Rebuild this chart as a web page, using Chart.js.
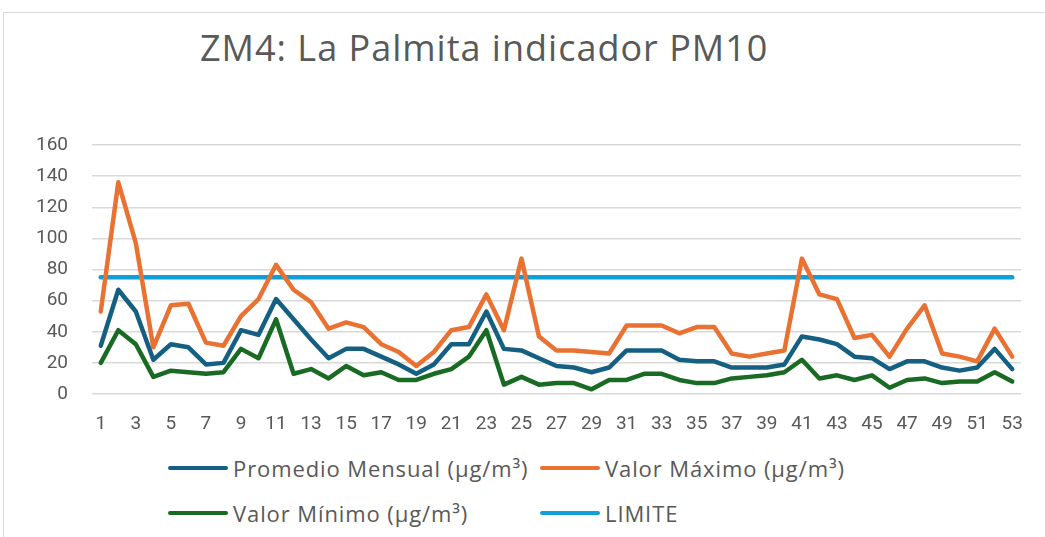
<!DOCTYPE html>
<html>
<head>
<meta charset="utf-8">
<script src="https://cdn.jsdelivr.net/npm/chart.js@4/dist/chart.umd.min.js"></script>
<style>
  html, body { margin: 0; padding: 0; background: #fff; }
  body { width: 1045px; height: 537px; position: relative; overflow: hidden; font-family: Roboto, "Open Sans", sans-serif; }
  #frame { position: absolute; left: 3px; top: 12px; width: 1100px; height: 600px; border: 1px solid #d9d9d9; box-sizing: border-box; }
  #title { position: absolute; left: 200px; top: 23px; font-family: "Open Sans", sans-serif; font-size: 36px; letter-spacing: 1px; color: #595959; white-space: nowrap; }
  #chart { position: absolute; left: 0; top: 0; }
  #legend { position: absolute; left: 168px; top: 455px; display: grid; grid-template-columns: 372px 320px; row-gap: 19px; }
  .item { display: flex; align-items: center; font-family: "Open Sans", sans-serif; font-size: 22px; letter-spacing: 0.9px; color: #595959; white-space: nowrap; height: 26px; }
  .swatch { width: 60px; height: 4px; margin-right: 5px; border-radius: 2px; }
</style>
</head>
<body>
<div id="frame"></div>
<div id="title">ZM4: La Palmita indicador PM10</div>
<canvas id="chart" width="1045" height="440"></canvas>
<div id="legend"></div>
<script>
/* PM10 semanal - ZM4 La Palmita */

const weeks = ['1','2','3','4','5','6','7','8','9','10','11','12','13','14','15','16','17','18','19','20',
  '21','22','23','24','25','26','27','28','29','30','31','32','33','34','35','36','37','38','39','40',
  '41','42','43','44','45','46','47','48','49','50','51','52','53'];

const promedio = [31,67,53,22,32,30,19,20,41,38,61,48,35,23,29,29,24,19,13,19,
  32,32,53,29,28,23,18,17,14,17,28,28,28,22,21,21,17,17,17,19,
  37,35,32,24,23,16,21,21,17,15,17,29,16];

const maximo = [53,136,97,30,57,58,33,31,50,61,83,67,59,42,46,43,32,27,18,27,
  41,43,64,41,87,37,28,28,27,26,44,44,44,39,43,43,26,24,26,28,
  87,64,61,36,38,24,42,57,26,24,21,42,24];

const minimo = [20,41,32,11,15,14,13,14,29,23,48,13,16,10,18,12,14,9,9,13,
  16,24,41,6,11,6,7,7,3,9,9,13,13,9,7,7,10,11,12,14,
  22,10,12,9,12,4,9,10,7,8,8,14,8];

const limite = [75,75,75,75,75,75,75,75,75,75,75,75,75,75,75,75,75,75,75,75,
  75,75,75,75,75,75,75,75,75,75,75,75,75,75,75,75,75,75,75,75,
  75,75,75,75,75,75,75,75,75,75,75,75,75];

const yTicks = { min: 0, max: 160, step: 20 };

const TXT = '#595959';
const GRID = '#d9d9d9';
const FONT = 'Roboto, "Open Sans", sans-serif';

function line(label, data, color){
  return {
    label, data,
    borderColor: color, backgroundColor: color,
    borderWidth: 4.5, pointRadius: 0, tension: 0,
    borderJoinStyle: 'round', borderCapStyle: 'round'
  };
}

const datasets = [
  line('Promedio Mensual (µg/m³)', promedio, '#156082'),
  line('Valor Máximo (µg/m³)', maximo, '#E97132'),
  line('Valor Mínimo (µg/m³)', minimo, '#196B24'),
  line('LIMITE', limite, '#0F9ED5')
];

const chart = new Chart(document.getElementById('chart').getContext('2d'), {
  type: 'line',
  data: { labels: weeks, datasets },
  options: {
    responsive: false,
    animation: false,
    devicePixelRatio: 1,
    layout: { padding: { top: 145, right: 24, left: 0, bottom: 0 } },
    plugins: { legend: { display: false }, title: { display: false }, tooltip: { enabled: false } },
    scales: {
      x: {
        type: 'category',
        offset: true,
        grid: { display: false, drawTicks: false },
        border: { display: false },
        ticks: {
          autoSkip: false, maxRotation: 0, padding: 19,
          color: TXT, font: { family: FONT, size: 19 },
          callback: function(v, i){ return i % 2 === 0 ? this.getLabelForValue(v) : ''; }
        },
        afterFit: s => { s.height = 46; }
      },
      y: {
        min: yTicks.min, max: yTicks.max,
        grid: { color: GRID, lineWidth: 1.5, drawTicks: false },
        border: { display: false },
        ticks: { stepSize: yTicks.step, padding: 24, color: TXT, font: { family: FONT, size: 19 } },
        afterFit: s => { s.width = 92; }
      }
    }
  }
});

// legend in two columns, like the Excel one
const legendEl = document.getElementById('legend');
chart.data.datasets.forEach(ds => {
  const it = document.createElement('div');
  it.className = 'item';
  it.innerHTML = `<span class="swatch" style="background:${ds.borderColor}"></span><span>${ds.label}</span>`;
  legendEl.appendChild(it);
});
</script>
</body>
</html>
